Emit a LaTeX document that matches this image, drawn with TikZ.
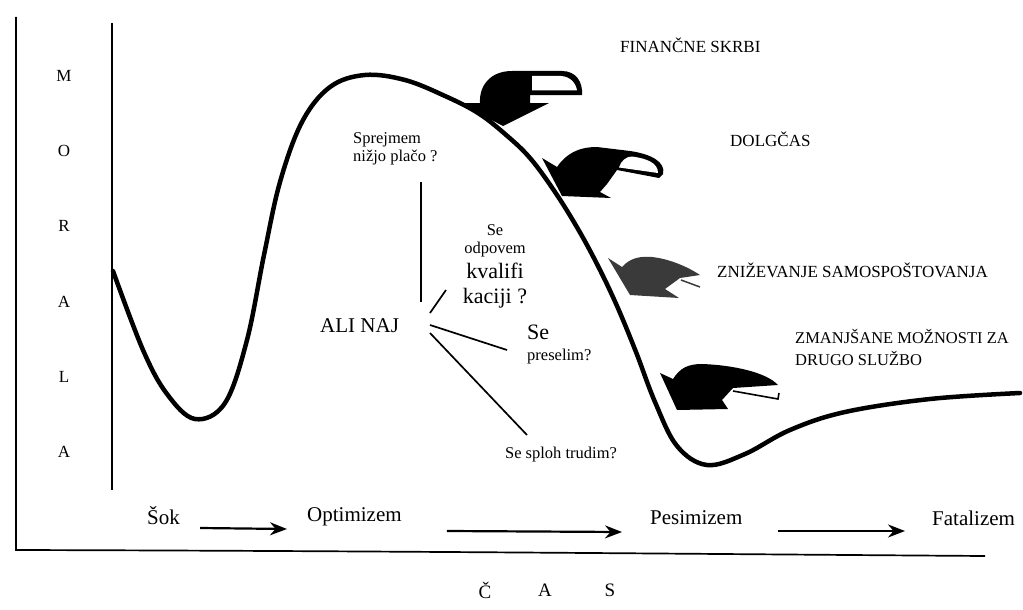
\documentclass[tikz,border=0pt]{standalone}
\usepackage{fontspec}
\setmainfont{Liberation Serif}
\usetikzlibrary{arrows.meta}
\definecolor{inkgray}{HTML}{3A3A3A}
\tikzset{
  curve/.style={line width=4.5pt, line cap=round, line join=round},
  axisline/.style={line width=1.7pt},
  flow/.style={line width=2.2pt, -{Stealth[length=17pt,width=13pt]}},
  branch/.style={line width=1.7pt},
  caps/.style={inner sep=0pt, anchor=west, align=left, font=\fontsize{17}{22}\selectfont},
  ask/.style={inner sep=0pt, font=\fontsize{16.5}{18.5}\selectfont},
  askbig/.style={inner sep=0pt, font=\fontsize{22}{25}\selectfont},
  phase/.style={inner sep=0pt, anchor=west, font=\fontsize{21}{25}\selectfont},
  letter/.style={inner sep=0pt, font=\fontsize{17}{20}\selectfont},
  blot/.style={fill=black},
  blotgray/.style={fill=inkgray},
  hole/.style={fill=white}
}
\begin{document}
\begin{tikzpicture}[x=1pt, y=-1pt]
\useasboundingbox (0,0) rectangle (1023,610);
% axes
\coordinate (otop) at (16,17);
\coordinate (orig) at (16,550);
\coordinate (oend) at (985,556);
\coordinate (itop) at (112,23);
\coordinate (ibot) at (112,490);
\draw[axisline] (otop) -- (orig) .. controls (400,551) and (700,554) .. (oend);
\draw[axisline] (itop) -- (ibot);
% vertical label
\foreach \ch [count=\i] in {M,O,R,A,L,A}
  \node[letter] (mor\i) at (64,{76+75.2*(\i-1)}) {\ch};
% morale curve
\draw[curve] plot[smooth, tension=0.6] coordinates {
  (113,271) (143,350) (167,394) (195,419) (225,403) (247,340)
  (264,255) (280,182) (302,122) (330,87) (365,75) (405,80) (445,96)
  (478,113) (505,134) (530,158) (555,192) (578,229) (598,266)
  (617,306) (636,352) (655,402) (677,446) (707,465) (745,454)
  (790,430) (845,412) (930,399) (1020,393)};
% curled arrows
\fill[blot] (480,103) .. controls (479,86) and (490,71) .. (512,71) -- (562,71)
  .. controls (576,71) and (583,82) .. (582,95) -- (530,95) -- (530,103)
  -- (549,103) -- (503,126) -- (459,103) -- cycle;
\fill[hole] (532,76) -- (561,76) .. controls (570,76.5) and (576,83) .. (577,90.5)
  -- (532,90.5) -- cycle;
\fill[blot] (542,158) -- (557,167) .. controls (566,154) and (578,147) .. (597,147)
  -- (630,151) .. controls (651,154) and (666,162) .. (663,174) -- (659,178)
  -- (617,170) -- (607,184) -- (600,192) -- (611,198) -- (562,196) -- cycle;
\fill[hole] (619,167.5) .. controls (621,161) and (626,156.5) .. (632,156.5)
  .. controls (647,158.5) and (658,163) .. (658,173) -- cycle;
\fill[blotgray] (608,258) -- (622,267) .. controls (630,258) and (640,256) .. (652,257)
  .. controls (670,259) and (688,267) .. (700,275) -- (680,278) -- (665,289)
  -- (679,298) -- (630,295) -- cycle;
\draw[inkgray, line width=1.5pt] (681,280) -- (700,287);
\fill[blot] (660,373) -- (673,379) .. controls (680,368) and (688,364) .. (702,364)
  .. controls (732,365) and (766,372) .. (778,385) -- (733,388) -- (722,400)
  -- (728,409) -- (677,410) -- cycle;
\draw[line width=1.6pt] (733,391) -- (778,399) -- (779,393);
% side effects
\node[caps] (fin) at (620,45) {FINANČNE SKRBI};
\node[caps] (dolg) at (730,139) {DOLGČAS};
\node[caps] (samo) at (717,270) {ZNIŽEVANJE SAMOSPOŠTOVANJA};
\node[caps, font=\fontsize{16.5}{22}\selectfont] (mozn) at (795,347) {ZMANJŠANE MOŽNOSTI ZA\\DRUGO SLUŽBO};
% dilemmas
\node[inner sep=0pt, anchor=west, font=\fontsize{21}{25}\selectfont] (alinaj) at (320,326) {ALI NAJ};
\node[ask, anchor=west, align=left] (placa) at (353,149) {Sprejmem\\nižjo plačo ?};
\node[ask, align=center] (odpov) at (495,241) {Se\\odpovem};
\node[askbig, align=center] (kval) at (495,286) {kvalifi\\kaciji ?};
\node[askbig, anchor=west] (sebig) at (527,332) {Se};
\node[ask, anchor=west] (presel) at (527,357) {preselim?};
\node[ask] (trud) at (561,455) {Se sploh trudim?};
\coordinate (v1) at (421,182);
\coordinate (v2) at (421,302);
\coordinate (k1) at (430,313);
\coordinate (k2) at (446,290);
\coordinate (p1) at (430,325);
\coordinate (p2) at (507,350);
\coordinate (t1) at (430,333);
\coordinate (t2) at (527,435);
\draw[branch] (v1) -- (v2);
\draw[branch] (k1) -- (k2);
\draw[branch] (p1) -- (p2);
\draw[branch] (t1) -- (t2);
% phases
\node[phase] (sok) at (147,516) {Šok};
\node[phase] (opt) at (307,517) {Optimizem};
\node[phase] (pes) at (650,518) {Pesimizem};
\node[phase] (fat) at (932,518) {Fatalizem};
\draw[flow] ([shift={(20,12)}]sok.east) -- ([shift={(-20,12)}]opt.west);
\draw[flow] ([shift={(45,14)}]opt.east) -- ([shift={(-28,14)}]pes.west);
\draw[flow] ([shift={(35,13)}]pes.east) -- ([shift={(-27,13)}]fat.west);
% time axis label
\foreach \ch/\x [count=\i] in {Č/485,A/545,S/610}
  \node[letter, font=\fontsize{19}{22}\selectfont] (cas\i) at (\x,590) {\ch};
\end{tikzpicture}
\end{document}
